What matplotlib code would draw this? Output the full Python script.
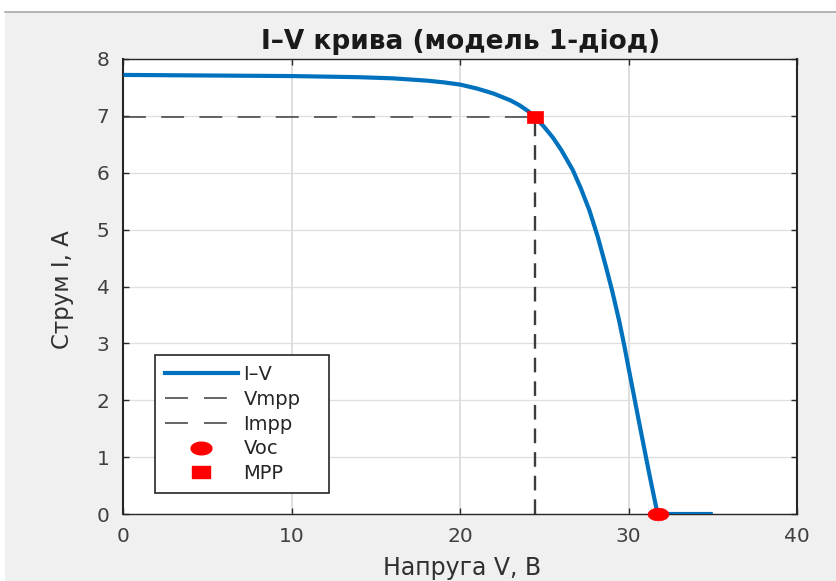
import matplotlib
matplotlib.use("Agg")
import matplotlib.pyplot as plt
from matplotlib.lines import Line2D
from matplotlib.patches import Rectangle
from matplotlib.path import Path
import numpy as np

# I-V curve of the single-diode PV model (voltage in V, current in A)
voltage = [0, 5, 10, 14, 16, 18, 19, 20, 21, 22, 23, 23.5, 24, 24.45, 25,
           25.5, 26, 26.68, 27.17, 27.67, 28.17, 28.66, 29.05, 29.45, 29.75,
           30.04, 30.63, 31.23, 31.72, 33, 35]
current = [7.72, 7.71, 7.70, 7.68, 7.66, 7.62, 7.59, 7.55, 7.48, 7.39, 7.27,
           7.19, 7.09, 6.98, 6.80, 6.62, 6.40, 6.05, 5.72, 5.34, 4.87, 4.34,
           3.89, 3.38, 2.95, 2.50, 1.60, 0.70, 0.0, 0.0, 0.0]

v_mpp = 24.45
i_mpp = 6.98
v_oc = 31.72

x_ticks = [0, 10, 20, 30, 40]
y_ticks = [0, 1, 2, 3, 4, 5, 6, 7, 8]
legend_labels = ["I–V", "Vmpp", "Impp", "Voc", "MPP"]

plt.rcParams["font.family"] = ["DejaVu Sans"]

W, H = 837, 581
fig = plt.figure(figsize=(W / 100, H / 100), dpi=100, facecolor="white")

# grey window background with a thin separator line on top
fig.patches.append(Rectangle((5 / W, 0), 1 - 5 / W, 1 - 12 / H,
                             transform=fig.transFigure, facecolor="#f0f0f0",
                             edgecolor="none", zorder=-10))
fig.lines.append(Line2D([5 / W, 1], [1 - 12 / H, 1 - 12 / H],
                        transform=fig.transFigure, color="#a8a8a8", lw=1.2))

AX_L, AX_R, AX_T, AX_B = 123.5, 797.0, 59.0, 514.0
ax_w, ax_h = AX_R - AX_L, AX_B - AX_T
ax = fig.add_axes([AX_L / W, 1 - AX_B / H, ax_w / W, ax_h / H])
ax.set_facecolor("white")

axis_col = "#262626"
dash_col = "#3c3c3c"
blue = "#0072BD"

ax.plot(voltage, current, color=blue, lw=3.0, solid_capstyle="butt",
        solid_joinstyle="round", zorder=3)
vline, = ax.plot([v_mpp, v_mpp], [0, i_mpp], color=dash_col, lw=1.7, zorder=2)
hline, = ax.plot([0, v_mpp], [i_mpp, i_mpp], color=dash_col, lw=1.1, zorder=2)
vline.set_dashes([6.2, 3.8])
hline.set_dashes([15, 10])

# widened marker shapes
t = np.linspace(0, 2 * np.pi, 60)
ellipse = Path(np.column_stack([1.65 * np.cos(t), np.sin(t)]))
rect = Path([(-1.45, -1), (1.45, -1), (1.45, 1), (-1.45, 1), (-1.45, -1)],
            [Path.MOVETO, Path.LINETO, Path.LINETO, Path.LINETO, Path.CLOSEPOLY])

ax.plot([v_oc], [0], marker=ellipse, ms=15, color="red", mec="red", mew=0.5,
        ls="none", zorder=5, clip_on=False)
ax.plot([v_mpp], [i_mpp], marker=rect, ms=12, color="red", mec="red", mew=0.5,
        ls="none", zorder=5, clip_on=False)

ax.set_xlim(0, 40)
ax.set_ylim(0, 8)
ax.set_xticks(x_ticks)
ax.set_yticks(y_ticks)
ax.xaxis.grid(True, color="#dfdfdf", lw=1.4)
ax.yaxis.grid(True, color="#dfdfdf", lw=0.9)
ax.set_axisbelow(True)
ax.tick_params(direction="in", length=4, width=1, color=axis_col,
               top=True, right=True, labelsize=14.5, labelcolor="#404040")
ax.tick_params(axis="x", pad=9.5)
ax.tick_params(axis="y", pad=10)
for side, s in ax.spines.items():
    s.set_color(axis_col)
    s.set_linewidth(1.5 if side in ("left", "right") else 1.0)

ax.set_title("I–V крива (модель 1-діод)", fontsize=19, fontweight="bold",
             color="#1a1a1a", pad=7.5)
ax.set_xlabel("Напруга V, В", fontsize=17, color="#303030")
ax.xaxis.label.set_verticalalignment("bottom")
ax.set_ylabel("Струм I, А", fontsize=16.5, color="#303030")
ax.xaxis.set_label_coords(0.5 + 2 / ax_w, -(579.5 - AX_B) / ax_h)
ax.yaxis.set_label_coords(-(AX_L - 73.5) / ax_w, 0.5 - 3 / ax_h)

handles = [
    Line2D([], [], color=blue, lw=3.0),
    Line2D([], [], color=dash_col, lw=1.1, dashes=[15, 10.5]),
    Line2D([], [], color=dash_col, lw=1.1, dashes=[15, 10.5]),
    Line2D([], [], color="red", marker=ellipse, ms=15, ls="none"),
    Line2D([], [], color="red", marker=rect, ms=12.5, ls="none"),
]
leg_x0 = (155 - AX_L) / ax_w
leg_y0 = (AX_B - 493) / ax_h
leg_w = (329 - 155) / ax_w
leg_h = (493 - 359) / ax_h
leg = ax.legend(handles, legend_labels, loc="lower left", mode="expand",
                bbox_to_anchor=(leg_x0, leg_y0, leg_w, leg_h),
                fontsize=14, frameon=True, fancybox=False, framealpha=1,
                edgecolor=axis_col, borderpad=0.5, labelspacing=0.3,
                handlelength=3.75, handletextpad=0.3, borderaxespad=0)
leg.get_frame().set_linewidth(1.2)
for txt in leg.get_texts():
    txt.set_color("#262626")

fig.savefig("out.png", dpi=100, facecolor=fig.get_facecolor())
